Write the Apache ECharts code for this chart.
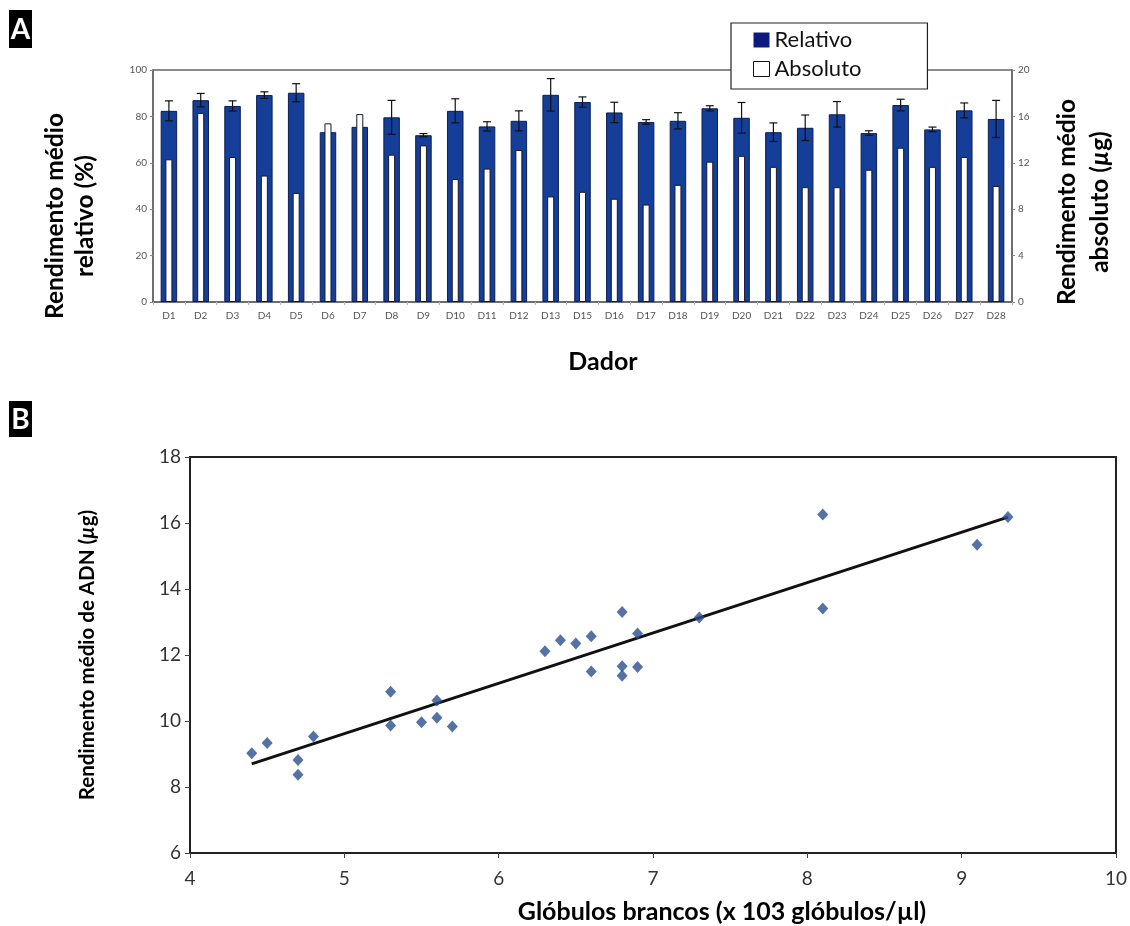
<!DOCTYPE html>
<html>
<head>
<meta charset="utf-8">
<script src="https://cdn.jsdelivr.net/npm/echarts@6/dist/echarts.min.js"></script>
<style>
  html, body { margin: 0; padding: 0; background: #fff; }
  #chart { width: 1130px; height: 926px; }
</style>
</head>
<body>
<div id="chart"></div>
<script>
// Panel A - donors (no D14)
const donors = ['D1','D2','D3','D4','D5','D6','D7','D8','D9','D10','D11','D12','D13',
  'D15','D16','D17','D18','D19','D20','D21','D22','D23','D24','D25','D26','D27','D28'];
const relativeMean = [82.4, 87.0, 84.5, 89.2, 90.2, 73.2, 75.5, 79.6, 71.9,
  82.4, 75.7, 78.1, 89.3, 86.2, 81.7, 77.6, 78.1, 83.5, 79.4,
  73.2, 75.1, 80.9, 72.8, 84.9, 74.4, 82.6, 78.9];
const relativeErr = [4.3, 2.9, 2.2, 1.4, 3.9, 0, 0, 7.3, 0.7,
  5.2, 2.0, 4.3, 7.0, 2.2, 4.4, 1.0, 3.5, 1.1, 6.6,
  4.0, 5.5, 5.5, 1.0, 2.5, 1.0, 3.2, 8.0];
const absoluteMean = [12.3, 16.3, 12.5, 10.9, 9.4, 15.4, 16.2, 12.7, 13.5,
  10.6, 11.5, 13.1, 9.1, 9.5, 8.9, 8.4, 10.1, 12.1, 12.6,
  11.65, 9.9, 9.9, 11.4, 13.3, 11.65, 12.5, 10.0];

// Panel B - white cells vs DNA yield
const wbc = [4.4, 4.5, 4.7, 4.7, 4.8, 5.3, 5.3, 5.5, 5.6, 5.6, 5.7, 6.3, 6.4,
  6.5, 6.6, 6.6, 6.8, 6.8, 6.8, 6.9, 6.9, 7.3, 8.1, 8.1, 9.1, 9.3];
const dnaYield = [9.02, 9.33, 8.82, 8.37, 9.53, 10.89, 9.86, 9.96, 10.62, 10.10, 9.83, 12.11, 12.45,
  12.35, 12.57, 11.50, 13.30, 11.66, 11.37, 12.65, 11.64, 13.14, 16.26, 13.41, 15.34, 16.18];
const trendX = [4.4, 9.3];
const trendY = [8.70, 16.18];

const FONT = 'Lato, "DejaVu Sans", sans-serif';
const BLUE = '#143e97';

const chart = echarts.init(document.getElementById('chart'), null, { renderer: 'canvas' });

const errData = donors.map((d, i) => [i, relativeMean[i], relativeErr[i]]);

function renderErr(params, api) {
  const err = api.value(2);
  if (!err) return null;
  const x = api.coord([api.value(0), 0])[0];
  const top = api.coord([api.value(0), api.value(1) + err])[1];
  const bot = api.coord([api.value(0), api.value(1) - err])[1];
  const hw = 4;
  const style = { stroke: '#111', lineWidth: 1.2 };
  return {
    type: 'group',
    children: [
      { type: 'line', shape: { x1: x, y1: top, x2: x, y2: bot }, style },
      { type: 'line', shape: { x1: x - hw, y1: top, x2: x + hw, y2: top }, style },
      { type: 'line', shape: { x1: x - hw, y1: bot, x2: x + hw, y2: bot }, style }
    ]
  };
}

const boldTitle = { fontFamily: FONT, fontWeight: 'bold', fontSize: 24.5, fill: '#000' };

const option = {
  animation: false,
  backgroundColor: '#fff',
  grid: [
    { left: 153, right: 118, top: 70, height: 232, show: true, borderColor: '#666', borderWidth: 1.5, containLabel: false },
    { left: 190, right: 13, top: 457, height: 396, show: true, borderColor: '#222', borderWidth: 2, containLabel: false }
  ],
  legend: {
    left: 731, top: 23,
    orient: 'vertical',
    backgroundColor: '#fff',
    borderColor: '#222', borderWidth: 1.2, borderRadius: 0,
    padding: [5, 66, 8, 22],
    itemWidth: 16, itemHeight: 15, itemGap: 5, itemTextGap: 17,
    textStyle: { fontFamily: FONT, fontSize: 22, color: '#111', lineHeight: 24 },
    data: [
      { name: 'Relativo', icon: 'rect', itemStyle: { color: '#0c1a7e', borderWidth: 0 } },
      { name: 'Absoluto', icon: 'rect', itemStyle: { color: '#fff', borderColor: '#111', borderWidth: 1 } }
    ]
  },
  xAxis: [
    {
      type: 'category', gridIndex: 0, data: donors,
      axisLine: { show: true, lineStyle: { color: '#666', width: 1.5 } },
      axisTick: { show: true, length: 3, lineStyle: { color: '#bbb' } },
      axisLabel: { fontFamily: FONT, fontSize: 10, color: '#555', margin: 9 }
    },
    {
      type: 'category', gridIndex: 0, data: donors, show: false
    },
    {
      type: 'value', gridIndex: 1, min: 4, max: 10, interval: 1,
      axisLine: { show: true, onZero: false, lineStyle: { color: '#222', width: 2 } },
      axisTick: { show: true, length: 5, lineStyle: { color: '#444' } },
      axisLabel: { fontFamily: FONT, fontSize: 19, color: '#333', margin: 16 },
      splitLine: { show: false }
    }
  ],
  yAxis: [
    {
      type: 'value', gridIndex: 0, min: 0, max: 100, interval: 20,
      axisLine: { show: true, lineStyle: { color: '#666', width: 1.5 } },
      axisTick: { show: true, length: 3, lineStyle: { color: '#888' } },
      axisLabel: { fontFamily: FONT, fontSize: 10, color: '#555', margin: 6 },
      splitLine: { show: false }
    },
    {
      type: 'value', gridIndex: 0, position: 'right', min: 0, max: 20, interval: 4,
      axisLine: { show: true, lineStyle: { color: '#666', width: 1.5 } },
      axisTick: { show: true, length: 3, lineStyle: { color: '#888' } },
      axisLabel: { fontFamily: FONT, fontSize: 10, color: '#555', margin: 6 },
      splitLine: { show: false }
    },
    {
      type: 'value', gridIndex: 1, min: 6, max: 18, interval: 2,
      axisLine: { show: true, lineStyle: { color: '#222', width: 2 } },
      axisTick: { show: true, length: 5, lineStyle: { color: '#444' } },
      axisLabel: { fontFamily: FONT, fontSize: 19, color: '#333', margin: 9 },
      splitLine: { show: false },
      name: 'Rendimento médio de ADN ({i|µ}g)',
      nameLocation: 'middle', nameRotate: 90, nameGap: 92,
      nameTextStyle: {
        fontFamily: FONT, fontWeight: 'bold', fontSize: 20.5, color: '#000',
        rich: { i: { fontFamily: FONT, fontWeight: 'bold', fontStyle: 'italic', fontSize: 20.5, color: '#000' } }
      }
    }
  ],
  series: [
    {
      name: 'Relativo', type: 'bar', xAxisIndex: 0, yAxisIndex: 0,
      data: relativeMean, barWidth: 16.5,
      itemStyle: { color: BLUE, borderColor: '#0a1f55', borderWidth: 1 }
    },
    {
      name: 'Absoluto', type: 'bar', xAxisIndex: 1, yAxisIndex: 1,
      data: absoluteMean, barWidth: 7,
      itemStyle: { color: '#fff', borderColor: '#1a1a2a', borderWidth: 1 }
    },
    {
      name: 'erro', type: 'custom', xAxisIndex: 0, yAxisIndex: 0,
      data: errData, renderItem: renderErr, z: 5, silent: true
    },
    {
      name: 'dados', type: 'scatter', xAxisIndex: 2, yAxisIndex: 2,
      data: wbc.map((x, i) => [x, dnaYield[i]]),
      symbol: 'diamond', symbolSize: [11, 12],
      itemStyle: { color: '#2b4f8f' }
    },
    {
      name: 'tendência', type: 'line', xAxisIndex: 2, yAxisIndex: 2,
      data: trendX.map((x, i) => [x, trendY[i]]),
      symbol: 'none', lineStyle: { color: '#111', width: 3 }, z: 1
    }
  ],
  graphic: [
    { type: 'rect', left: 9, top: 10, shape: { width: 23, height: 38 }, style: { fill: '#000' } },
    { type: 'text', x: 20.5, y: 30, style: { text: 'A', fill: '#fff', fontFamily: FONT, fontWeight: 'bold', fontSize: 28, textAlign: 'center', textVerticalAlign: 'middle' } },
    { type: 'rect', left: 9, top: 401, shape: { width: 23, height: 36 }, style: { fill: '#000' } },
    { type: 'text', x: 20.5, y: 420, style: { text: 'B', fill: '#fff', fontFamily: FONT, fontWeight: 'bold', fontSize: 28, textAlign: 'center', textVerticalAlign: 'middle' } },
    {
      type: 'text', x: 70, y: 216, rotation: Math.PI / 2,
      style: Object.assign({ text: 'Rendimento médio\nrelativo (%)', textAlign: 'center', textVerticalAlign: 'middle', lineHeight: 30 }, boldTitle)
    },
    {
      type: 'text', x: 1084, y: 202, rotation: Math.PI / 2,
      style: Object.assign({
        text: 'Rendimento médio\nabsoluto ({i|µ}g)', textAlign: 'center', textVerticalAlign: 'middle', lineHeight: 33,
        rich: { i: { fontFamily: FONT, fontWeight: 'bold', fontStyle: 'italic', fontSize: 24.5, fill: '#000' } }
      }, boldTitle)
    },
    {
      type: 'text', x: 603, y: 362,
      style: Object.assign({}, boldTitle, { text: 'Dador', textAlign: 'center', textVerticalAlign: 'middle', fontSize: 25 })
    },
    {
      type: 'text', x: 722, y: 912,
      style: Object.assign({}, boldTitle, { text: 'Glóbulos brancos (x 103 glóbulos/µl)', textAlign: 'center', textVerticalAlign: 'middle', fontSize: 25 })
    }
  ]
};

chart.setOption(option);
</script>
</body>
</html>
